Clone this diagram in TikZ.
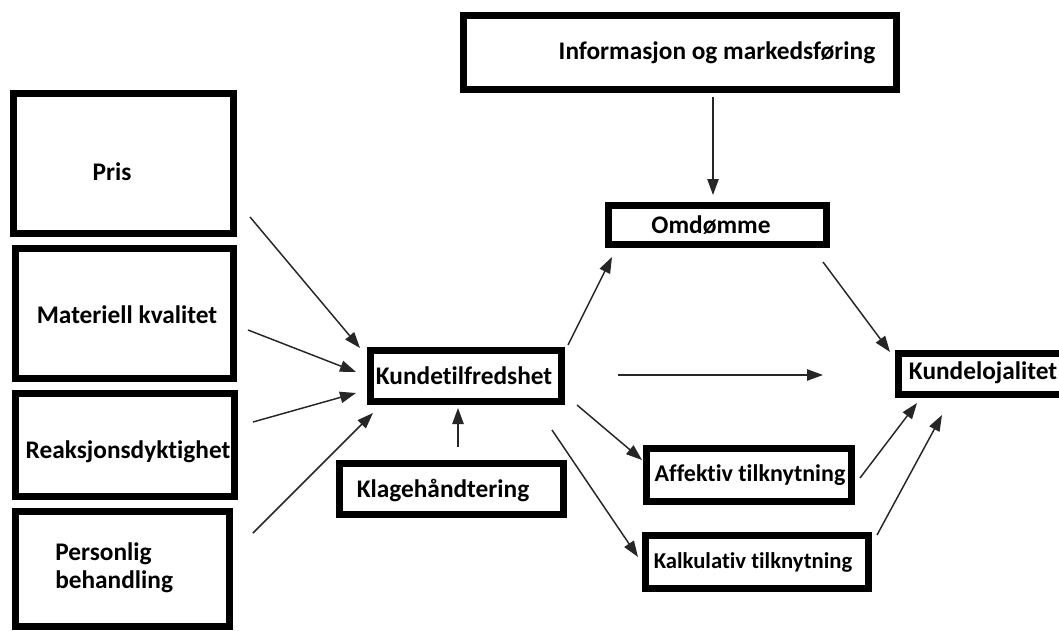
\documentclass[tikz,border=0pt]{standalone}
\usepackage{fontspec}
\setmainfont{Carlito}[Ligatures=NoCommon]
\usetikzlibrary{arrows.meta,fit}
\tikzset{
  box/.style={draw=black, line width=5.25pt, inner sep=0pt, fill=white},
  lbl/.style={inner sep=0pt, font=\fontsize{19}{22}\selectfont\bfseries, text=black},
  arr/.style={draw=black!85, line width=1.1pt, -{Triangle[length=12pt,width=8.5pt]}}
}
\begin{document}
\begin{tikzpicture}[x=0.75pt,y=-0.75pt]
\clip (0,0) rectangle (1059,631);
\fill[white] (0,0) rectangle (1059,631);

% boxes (mid-line corners)
\node[box, fit={(13.5,93.5) (233.5,233.5)}] (pris) {};
\node[box, fit={(15.5,248.5) (233.5,378.5)}] (mat) {};
\node[box, fit={(15.5,393.5) (234.5,496.5)}] (reak) {};
\node[box, fit={(15.5,511.5) (229.5,626.5)}] (pers) {};
\node[box, fit={(370.5,350.5) (561.5,401.5)}] (kt) {};
\node[box, fit={(339.5,463.5) (563.5,514.5)}] (klage) {};
\node[box, fit={(463.5,15.5) (896.5,89.5)}] (info) {};
\node[box, fit={(608.5,205.5) (826.5,244.5)}] (omd) {};
\node[box, fit={(898.5,353.5) (1070,394.5)}] (loj) {};
\node[box, fit={(646.5,448.5) (851.5,501.5)}] (aff) {};
\node[box, fit={(645.5,535.5) (868.5,588.5)}] (kalk) {};

% labels
\node[lbl] (tpris) at (112,172) {Pris};
\node[lbl] (tmat) at (127,315) {Materiell kvalitet};
\node[lbl] (treak) at (128,452) {Reaksjonsdyktighet};
\node[lbl, anchor=west, align=left] (tpers) at (55,568) {Personlig\\[-1pt]behandling};
\node[lbl] (tkt) at (464,376) {Kundetilfredshet};
\node[lbl] (tklage) at (443,490) {Klagehåndtering};
\node[lbl] (tinfo) at (717,53) {Informasjon og markedsføring};
\node[lbl] (tomd) at (711,225) {Omdømme};
\node[lbl] (tloj) at (983,373) {Kundelojalitet};
\node[lbl, font=\fontsize{18}{21}\selectfont\bfseries] (taff) at (750,475) {Affektiv tilknytning};
\node[lbl, font=\fontsize{17}{20}\selectfont\bfseries] (tkalk) at (753,562) {Kalkulativ tilknytning};

% connector ends
\coordinate (p1) at (250,217);  \coordinate (k1) at (360,348);
\coordinate (m1) at (248,330);  \coordinate (k2) at (356,372);
\coordinate (r1) at (253,422);  \coordinate (k3) at (356,393);
\coordinate (b1) at (253,533);  \coordinate (k4) at (373,413);
\coordinate (h1) at (458,447);  \coordinate (k5) at (458,408);
\coordinate (k6) at (568,345);  \coordinate (o1) at (612,257);
\coordinate (i1) at (713,97);   \coordinate (o2) at (713,195);
\coordinate (o3) at (823,262);  \coordinate (l1) at (890,352);
\coordinate (k7) at (618,375);  \coordinate (l0) at (823,375);
\coordinate (k8) at (577,405);  \coordinate (a1) at (642,460);
\coordinate (k9) at (552,430);  \coordinate (c1) at (638,557);
\coordinate (a2) at (860,478);  \coordinate (l2) at (917,403);
\coordinate (c2) at (877,535);  \coordinate (l3) at (942,415);

% connectors
\draw[arr] (p1) -- (k1);
\draw[arr] (m1) -- (k2);
\draw[arr] (r1) -- (k3);
\draw[arr] (b1) -- (k4);
\draw[arr] (h1) -- (k5);
\draw[arr] (k6) -- (o1);
\draw[arr] (i1) -- (o2);
\draw[arr] (o3) -- (l1);
\draw[arr] (k7) -- (l0);
\draw[arr] (k8) -- (a1);
\draw[arr] (k9) -- (c1);
\draw[arr] (a2) -- (l2);
\draw[arr] (c2) -- (l3);
\end{tikzpicture}
\end{document}
